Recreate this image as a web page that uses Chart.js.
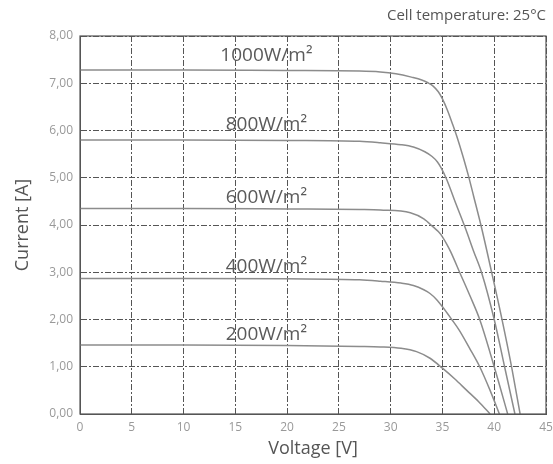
<!DOCTYPE html>
<html>
<head>
<meta charset="utf-8">
<script src="https://cdn.jsdelivr.net/npm/chart.js@4.4.0/dist/chart.umd.min.js"></script>
<style>
  html, body { margin: 0; padding: 0; background: #fff; }
  #wrap { width: 553px; height: 464px; }
</style>
</head>
<body>
<div id="wrap"><canvas id="ivChart"></canvas></div>
<script>
// I-V curves at cell temperature 25 C, one voltage/current pair per irradiance
var v1000 = [0, 10, 20, 27, 29, 30.5, 32, 33, 33.6, 34.1, 34.6, 35.0, 35.5, 36.0, 36.5, 37.0, 37.5, 38.0, 38.8, 39.8, 40.8, 41.7, 42.5];
var i1000 = [7.28, 7.28, 7.27, 7.26, 7.24, 7.2, 7.13, 7.07, 7.01, 6.94, 6.82, 6.67, 6.42, 6.12, 5.8, 5.44, 5.05, 4.62, 3.92, 2.95, 1.95, 0.97, 0];
var v800 = [0, 10, 20, 27, 29, 31, 32.2, 33.3, 34.0, 34.5, 34.9, 35.4, 36.3, 37.2, 38.0, 38.8, 40.0, 41.0, 42.0];
var i800 = [5.8, 5.8, 5.79, 5.77, 5.74, 5.7, 5.65, 5.55, 5.45, 5.34, 5.2, 4.97, 4.45, 3.94, 3.45, 2.98, 2.0, 1.0, 0];
var v600 = [0, 10, 20, 27, 29, 31.9, 33.2, 34.1, 34.6, 35.0, 35.4, 35.8, 36.7, 37.7, 38.6, 40, 41.3];
var i600 = [4.35, 4.35, 4.34, 4.33, 4.32, 4.26, 4.13, 3.96, 3.86, 3.75, 3.6, 3.43, 2.98, 2.48, 2.0, 1.0, 0];
var v400 = [0, 10, 20, 27, 29, 31, 32.2, 33.2, 33.8, 34.4, 35, 35.9, 36.6, 37.6, 38.6, 39.6, 40.5];
var i400 = [2.87, 2.87, 2.86, 2.84, 2.81, 2.77, 2.72, 2.63, 2.55, 2.43, 2.27, 2.0, 1.78, 1.4, 1.0, 0.5, 0];
var v200 = [0, 10, 20, 27, 29, 31, 32.5, 33.8, 35, 36.2, 37.3, 38.5, 39.6];
var i200 = [1.46, 1.46, 1.45, 1.43, 1.42, 1.39, 1.32, 1.18, 0.97, 0.74, 0.51, 0.26, 0];

var seriesNames = ['1000W/m²', '800W/m²', '600W/m²', '400W/m²', '200W/m²'];
// where each curve's label sits (voltage, current)
var labelV = [18, 18, 18, 18, 18];
var labelI = [7.58, 6.12, 4.59, 3.13, 1.67];

var xTicksMax = 45;
var yTicksMax = 8;

function pairs(vs, is) {
    var out = [];
    for (var k = 0; k < vs.length; k++) {
        out.push({x: vs[k], y: is[k]});
    }
    return out;
}

var curves = [pairs(v1000, i1000), pairs(v800, i800), pairs(v600, i600), pairs(v400, i400), pairs(v200, i200)];
var datasets = curves.map(function (pts, n) {
    return {
        label: seriesNames[n],
        data: pts,
        borderColor: '#8c8c8c',
        borderWidth: 1.5,
        pointRadius: 0,
        fill: false,
        cubicInterpolationMode: 'monotone'
    };
});

// curve labels + solid frame round the plot
var extras = {
    id: 'extras',
    afterDraw: function (chart) {
        var ctx = chart.ctx;
        var a = chart.chartArea;
        var xs = chart.scales.x, ys = chart.scales.y;
        ctx.save();
        ctx.strokeStyle = '#555';
        ctx.lineWidth = 1.2;
        ctx.strokeRect(a.left, a.top, a.right - a.left, a.bottom - a.top);
        ctx.fillStyle = '#5a5a5a';
        ctx.font = '19px "Open Sans"';
        ctx.textAlign = 'center';
        ctx.textBaseline = 'middle';
        for (var n = 0; n < seriesNames.length; n++) {
            ctx.fillText(seriesNames[n], xs.getPixelForValue(labelV[n]), ys.getPixelForValue(labelI[n]));
        }
        ctx.restore();
    }
};

var ctx = document.getElementById('ivChart').getContext('2d');
var chart = new Chart(ctx, {
    type: 'line',
    data: { datasets: datasets },
    plugins: [extras],
    options: {
        responsive: true,
        maintainAspectRatio: false,
        animation: false,
        layout: { padding: { left: 0, right: 7, top: 0, bottom: 0 } },
        plugins: {
            legend: { display: false },
            tooltip: { enabled: false },
            title: {
                display: true,
                text: 'Cell temperature: 25°C',
                align: 'end',
                color: '#555',
                font: { family: 'Open Sans', size: 15, weight: 'normal' },
                padding: { top: 7, bottom: 11 }
            }
        },
        scales: {
            x: {
                type: 'linear',
                min: 0,
                max: xTicksMax,
                afterFit: function (s) { s.height = 50; s.paddingRight = 0; },
                ticks: {
                    stepSize: 5,
                    color: '#999',
                    font: { family: 'Open Sans', size: 12 },
                    maxRotation: 0,
                    padding: 6
                },
                grid: { color: '#555', lineWidth: 1, drawTicks: false },
                border: { color: '#555', dash: [6, 2, 2, 2] },
                title: {
                    display: true,
                    text: 'Voltage [V]',
                    color: '#555',
                    font: { family: 'Open Sans', size: 18 },
                    padding: { top: 2 }
                }
            },
            y: {
                min: 0,
                max: yTicksMax,
                afterFit: function (s) { s.width = 80; },
                ticks: {
                    stepSize: 1,
                    color: '#999',
                    font: { family: 'Open Sans', size: 12 },
                    padding: 7,
                    callback: function (v) { return v.toFixed(2).replace('.', ','); }
                },
                grid: { color: '#555', lineWidth: 1, drawTicks: false },
                border: { color: '#555', dash: [6, 2, 2, 2] },
                title: {
                    display: true,
                    text: 'Current [A]',
                    color: '#555',
                    font: { family: 'Open Sans', size: 18 },
                    padding: { top: 12, bottom: 6 }
                }
            }
        }
    }
});
</script>
</body>
</html>
